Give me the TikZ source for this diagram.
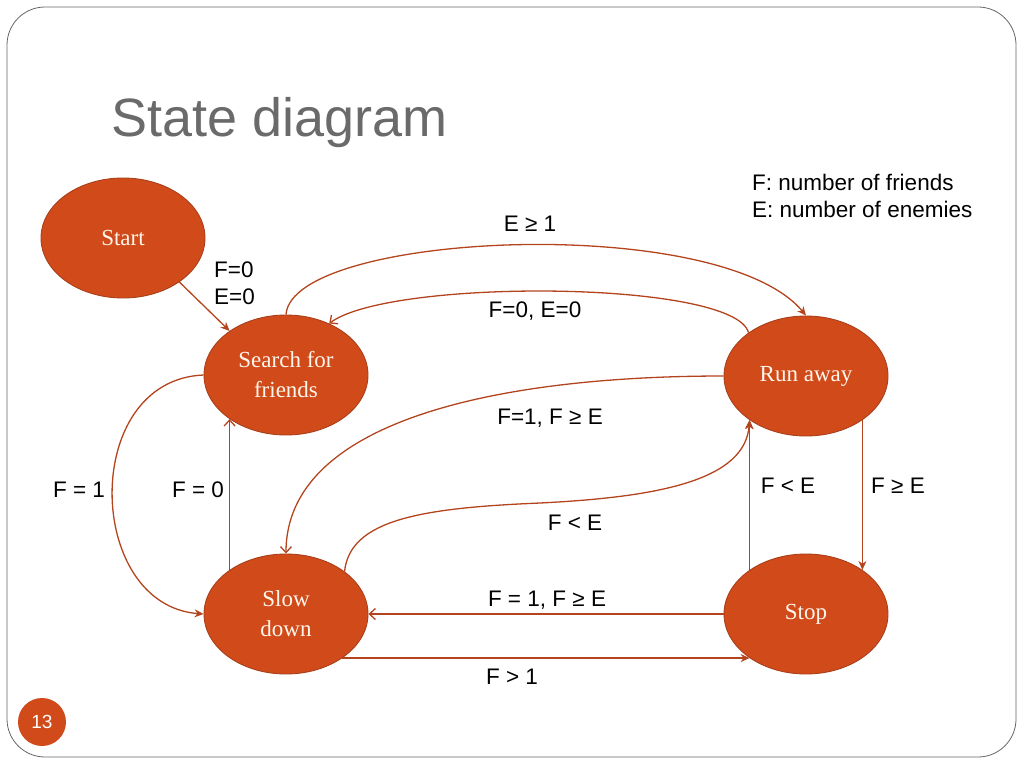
\documentclass[tikz,border=0pt]{standalone}
\usepackage{fontspec}
\setmainfont{Liberation Serif}
\setsansfont{Liberation Sans}
\usetikzlibrary{shapes.geometric,arrows.meta}
\definecolor{stfill}{HTML}{D14A1A}
\definecolor{stdraw}{HTML}{A8401A}
\definecolor{edgecol}{HTML}{B4441E}
\definecolor{titlegray}{HTML}{6A6A6A}
\definecolor{stext}{HTML}{FFF6EC}
\begin{document}
\begin{tikzpicture}[x=1pt,y=-1pt,
  state/.style={ellipse,draw=stdraw,line width=0.9pt,fill=stfill,minimum width=164pt,minimum height=120pt,inner sep=0pt,align=center,text=stext,font=\rmfamily\fontsize{23}{30}\selectfont},
  edge/.style={draw=edgecol,line width=1.3pt},
  filled/.style={edge,-{Stealth[length=9pt,width=8pt]}},
  openarr/.style={edge,-{Straight Barb[length=6pt,width=11pt]}},
  lbl/.style={font=\sffamily\fontsize{22.5}{27}\selectfont,text=black,inner sep=0pt,align=left}
]
\useasboundingbox (0,0) rectangle (1024,768);
\draw[gray!80!black,line width=0.8pt,rounded corners=38pt] (7,7) rectangle (1016,757);

\node[anchor=base west,text=titlegray,font=\sffamily\fontsize{54}{60}\selectfont,inner sep=0pt] (title) at (111,136) {State diagram};

\node[circle,fill=stfill,minimum size=48pt,inner sep=0pt,text=white,font=\sffamily\fontsize{19}{20}\selectfont] (pnum) at (42,722) {13};

\node[state] (start) at (123,238) {Start};
\node[state] (search) at (286,375) {Search for\\friends};
\node[state] (run) at (806,376) {Run away};
\node[state] (slow) at (286,614) {Slow\\down};
\node[state] (stop) at (806,614) {Stop};

\node[lbl,anchor=west] (leg1) at (752,182) {F: number of friends};
\node[lbl,anchor=west] (leg2) at (752,209) {E: number of enemies};

% edges
\coordinate (mid5) at (540,503);
\draw[filled] (start.-38) -- (search.142);
\draw[filled] (search.90) .. controls (292,232) and (720,212) .. (run.90);
\draw[openarr] (run.143) .. controls (735,280) and (390,278) .. (search.50);
\draw[openarr] (run.180) .. controls (500,376) and (286,420) .. (slow.90);
\draw[filled] (slow.36) .. controls (350,520) and (420,508) .. (mid5) .. controls (660,497) and (745,480) .. (run.218);
\draw[filled] (search.180) .. controls (80,380) and (85,605) .. (slow.180);
\draw[openarr] (slow.142) -- (search.218);
\draw[filled] (stop.142) -- (run.218);
\draw[filled] (run.-38) -- (stop.38);
\draw[openarr] (stop.180) -- (slow.0);
\draw[filled] (slow.-38) -- (stop.218);

% labels
\node[lbl,anchor=west] (l1) at (214,283) {F=0\\E=0};
\node[lbl] (l2) at (530,224) {E ≥ 1};
\node[lbl] (l3) at (535,311) {F=0, E=0};
\node[lbl] (l4) at (550,418) {F=1, F ≥ E};
\node[lbl] (l5) at (575,523) {F < E};
\node[lbl] (l6) at (79,490) {F = 1};
\node[lbl] (l7) at (198,490) {F = 0};
\node[lbl] (l8) at (788,486) {F < E};
\node[lbl] (l9) at (898,486) {F ≥ E};
\node[lbl] (l10) at (547,600) {F = 1, F ≥ E};
\node[lbl] (l11) at (512,677) {F > 1};
\end{tikzpicture}
\end{document}
